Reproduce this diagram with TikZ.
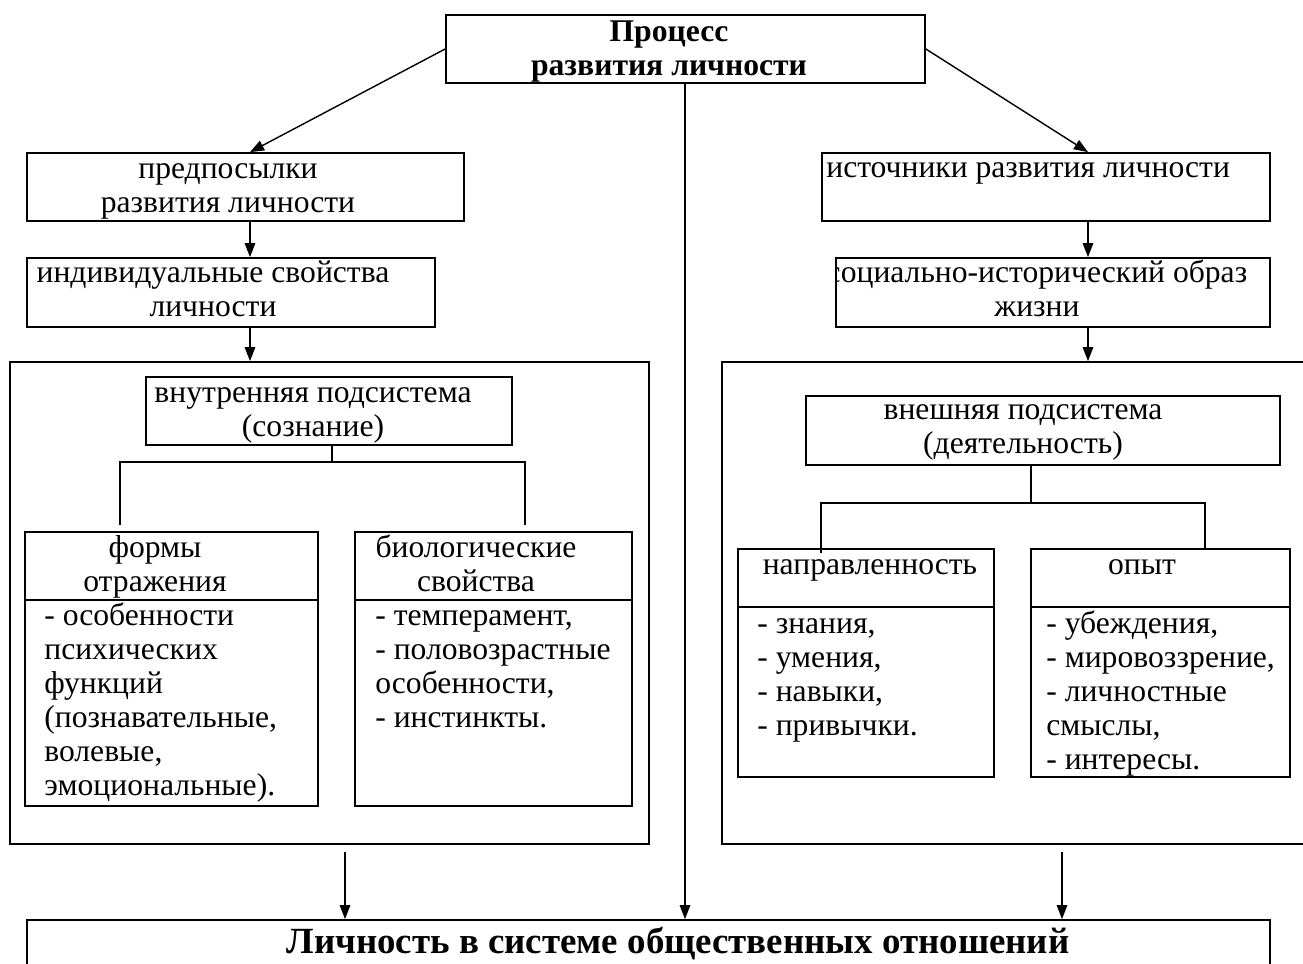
\documentclass[tikz,border=0pt]{standalone}
\usepackage{fontspec}
\setmainfont{Liberation Serif}
\usetikzlibrary{arrows.meta,fit}
\newcommand{\boxFont}{\fontsize{18}{19.35}\selectfont}
\newcommand{\headFont}{\fontsize{18}{19.35}\selectfont\bfseries}
\newcommand{\baseFont}{\fontsize{21}{24}\selectfont\bfseries}

\begin{document}
\begin{tikzpicture}[x=0.02cm, y=-0.02cm,
  frame/.style={draw, line width=1pt, inner sep=0pt},
  txt/.style={inner sep=0pt, font=\boxFont, align=center, anchor=base},
  txtl/.style={inner sep=0pt, font=\boxFont, align=left, anchor=base west},
  arr/.style={-{Triangle[length=8pt,width=6pt]}, line width=0.8pt},
  link/.style={line width=0.8pt}]

\useasboundingbox[fill=white] (0,0) rectangle (1303,964);

% columns for the arrows
\coordinate (lcol) at (250,0);
\coordinate (rcol) at (1088,0);
\coordinate (mcol) at (685,0);
\coordinate (lout) at (345,0);
\coordinate (rout) at (1062,0);

% top (texts are placed by their last baseline)
\node[frame, fit={(446,15) (925,83)}] (proc) {};
\node[txt, font=\headFont] (procT) at (669,75) {Процесс\\развития личности};

% left column
\node[frame, fit={(27,153) (464,221)}] (pre) {};
\node[txt] (preT) at (228,212) {предпосылки\\развития личности};
\node[frame, fit={(27,258) (435,327)}] (ind) {};
\node[txt] (indT) at (213,316) {индивидуальные свойства\\личности};

\node[frame, fit={(10,362) (649,844)}] (inSys) {};
\node[frame, fit={(146,377) (512,445)}] (inHead) {};
\node[txt] (inHeadT) at (313,436) {внутренняя подсистема\\(сознание)};

\node[frame, fit={(25,532) (318,806)}] (forms) {};
\draw[link] (forms.west |- 0,600) -- (forms.east |- 0,600);
\node[txt] (formsT) at (155,591) {формы\\отражения};
\node[txtl] (formsL) at (44,795) {- особенности\\психических\\функций\\(познавательные,\\волевые,\\эмоциональные).};

\node[frame, fit={(355,532) (632,806)}] (bio) {};
\draw[link] (bio.west |- 0,600) -- (bio.east |- 0,600);
\node[txt] (bioT) at (476,591) {биологические\\свойства};
\node[txtl] (bioL) at (375,727) {- темперамент,\\- половозрастные\\особенности,\\- инстинкты.};

% right column
\node[frame, fit={(822,153) (1270,221)}] (src) {};
\node[txtl] (srcT) at (826,177) {источники развития личности};
\begin{scope}
  \clip (836,258) rectangle (1270,327);
  \node[txt] (socT) at (1037,316) {социально-исторический образ\\жизни};
\end{scope}
\node[frame, fit={(836,258) (1270,327)}] (soc) {};

\node[frame, fit={(722,362) (1310,844)}] (exSys) {};
\node[frame, fit={(806,396) (1280,465)}] (exHead) {};
\node[txt] (exHeadT) at (1023,453) {внешняя подсистема\\(деятельность)};

\node[frame, fit={(738,549) (994,777)}] (napr) {};
\draw[link] (napr.west |- 0,607) -- (napr.east |- 0,607);
\node[txt] (naprT) at (870,574) {направленность};
\node[txtl] (naprL) at (757,735) {- знания,\\- умения,\\- навыки,\\- привычки.};

\node[frame, fit={(1031,549) (1290,777)}] (opyt) {};
\draw[link] (opyt.west |- 0,607) -- (opyt.east |- 0,607);
\node[txt] (opytT) at (1142,574) {опыт};
\node[txtl] (opytL) at (1046,769) {- убеждения,\\- мировоззрение,\\- личностные\\смыслы,\\- интересы.};

% bottom
\node[frame, fit={(27,920) (1270,980)}] (society) {};
\node[txt, font=\baseFont] (societyT) at (678,953) {Личность в системе общественных отношений};

% trees
\coordinate (lfork) at (332,462);
\draw[link] (inHead.south -| lfork) -- (lfork);
\draw[link] (120,525) |- (lfork) -| (525,525);
\coordinate (rfork) at (1031,503);
\draw[link] (exHead.south -| rfork) -- (rfork);
\draw[link] (821,553) |- (rfork) -| (1205,549);

% arrows
\draw[arr] (proc.west) -- (pre.north -| lcol);
\draw[arr] (proc.east) -- (src.north -| rcol);
\draw[arr] (proc.south -| mcol) -- (society.north -| mcol);
\draw[arr] (pre.south -| lcol) -- (ind.north -| lcol);
\draw[arr] (ind.south -| lcol) -- (inSys.north -| lcol);
\draw[arr] (src.south -| rcol) -- (soc.north -| rcol);
\draw[arr] (soc.south -| rcol) -- (exSys.north -| rcol);
\draw[arr] ([yshift=-4]inSys.south -| lout) -- (society.north -| lout);
\draw[arr] ([yshift=-4]exSys.south -| rout) -- (society.north -| rout);
\end{tikzpicture}
\end{document}
